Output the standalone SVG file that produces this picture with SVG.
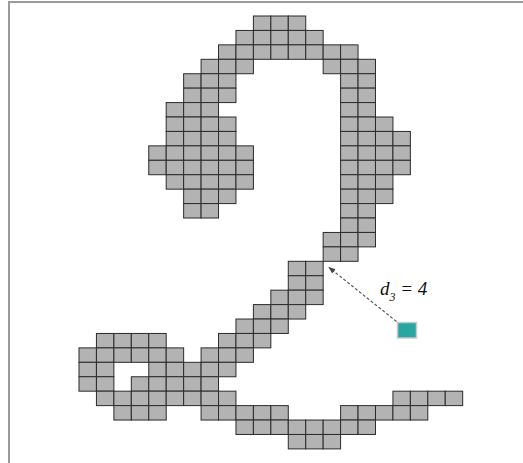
<svg xmlns="http://www.w3.org/2000/svg" xmlns:xlink="http://www.w3.org/1999/xlink" width="523" height="463" viewBox="0 0 523 463">
<style>
.c{fill:#b3b3b3;stroke:#2b2b2b;stroke-width:1}
.frame{fill:none;stroke:#9a9a9a;stroke-width:2}
.conn{stroke:#555;stroke-width:1.2;stroke-dasharray:3 2;fill:none}
.lbl{font-family:"Liberation Serif","Times New Roman",serif;font-style:italic;font-size:19px;fill:#111}
</style>
<defs>
<rect id="cell" class="c" width="17.44" height="14.43"/>
<marker id="ah" viewBox="0 0 10 10" refX="9" refY="5" markerWidth="7" markerHeight="7" orient="auto" markerUnits="userSpaceOnUse">
<path d="M0,1 L10,5 L0,9 Z" fill="#444"/>
</marker>
</defs>
<rect width="523" height="463" fill="#fff"/>
<path class="frame" d="M9,463 V2 H523"/>
<g id="grid">
<g transform="translate(0,16)"><use href="#cell" x="253.4"/><use href="#cell" x="270.84"/><use href="#cell" x="288.28"/></g>
<g transform="translate(0,30.43)"><use href="#cell" x="235.96"/><use href="#cell" x="253.4"/><use href="#cell" x="270.84"/><use href="#cell" x="288.28"/><use href="#cell" x="305.72"/></g>
<g transform="translate(0,44.86)"><use href="#cell" x="218.52"/><use href="#cell" x="235.96"/><use href="#cell" x="253.4"/><use href="#cell" x="270.84"/><use href="#cell" x="288.28"/><use href="#cell" x="305.72"/><use href="#cell" x="323.16"/><use href="#cell" x="340.6"/></g>
<g transform="translate(0,59.29)"><use href="#cell" x="201.08"/><use href="#cell" x="218.52"/><use href="#cell" x="235.96"/><use href="#cell" x="323.16"/><use href="#cell" x="340.6"/><use href="#cell" x="358.04"/></g>
<g transform="translate(0,73.72)"><use href="#cell" x="183.64"/><use href="#cell" x="201.08"/><use href="#cell" x="218.52"/><use href="#cell" x="340.6"/><use href="#cell" x="358.04"/></g>
<g transform="translate(0,88.15)"><use href="#cell" x="183.64"/><use href="#cell" x="201.08"/><use href="#cell" x="218.52"/><use href="#cell" x="340.6"/><use href="#cell" x="358.04"/></g>
<g transform="translate(0,102.58)"><use href="#cell" x="166.2"/><use href="#cell" x="183.64"/><use href="#cell" x="201.08"/><use href="#cell" x="340.6"/><use href="#cell" x="358.04"/></g>
<g transform="translate(0,117.01)"><use href="#cell" x="166.2"/><use href="#cell" x="183.64"/><use href="#cell" x="201.08"/><use href="#cell" x="218.52"/><use href="#cell" x="340.6"/><use href="#cell" x="358.04"/><use href="#cell" x="375.48"/></g>
<g transform="translate(0,131.44)"><use href="#cell" x="166.2"/><use href="#cell" x="183.64"/><use href="#cell" x="201.08"/><use href="#cell" x="218.52"/><use href="#cell" x="340.6"/><use href="#cell" x="358.04"/><use href="#cell" x="375.48"/><use href="#cell" x="392.92"/></g>
<g transform="translate(0,145.87)"><use href="#cell" x="148.76"/><use href="#cell" x="166.2"/><use href="#cell" x="183.64"/><use href="#cell" x="201.08"/><use href="#cell" x="218.52"/><use href="#cell" x="235.96"/><use href="#cell" x="340.6"/><use href="#cell" x="358.04"/><use href="#cell" x="375.48"/><use href="#cell" x="392.92"/></g>
<g transform="translate(0,160.3)"><use href="#cell" x="148.76"/><use href="#cell" x="166.2"/><use href="#cell" x="183.64"/><use href="#cell" x="201.08"/><use href="#cell" x="218.52"/><use href="#cell" x="235.96"/><use href="#cell" x="340.6"/><use href="#cell" x="358.04"/><use href="#cell" x="375.48"/><use href="#cell" x="392.92"/></g>
<g transform="translate(0,174.73)"><use href="#cell" x="166.2"/><use href="#cell" x="183.64"/><use href="#cell" x="201.08"/><use href="#cell" x="218.52"/><use href="#cell" x="235.96"/><use href="#cell" x="340.6"/><use href="#cell" x="358.04"/><use href="#cell" x="375.48"/></g>
<g transform="translate(0,189.16)"><use href="#cell" x="183.64"/><use href="#cell" x="201.08"/><use href="#cell" x="218.52"/><use href="#cell" x="340.6"/><use href="#cell" x="358.04"/><use href="#cell" x="375.48"/></g>
<g transform="translate(0,203.59)"><use href="#cell" x="183.64"/><use href="#cell" x="201.08"/><use href="#cell" x="340.6"/><use href="#cell" x="358.04"/></g>
<g transform="translate(0,218.02)"><use href="#cell" x="340.6"/><use href="#cell" x="358.04"/></g>
<g transform="translate(0,232.45)"><use href="#cell" x="323.16"/><use href="#cell" x="340.6"/><use href="#cell" x="358.04"/></g>
<g transform="translate(0,246.88)"><use href="#cell" x="323.16"/><use href="#cell" x="340.6"/></g>
<g transform="translate(0,261.31)"><use href="#cell" x="288.28"/><use href="#cell" x="305.72"/></g>
<g transform="translate(0,275.74)"><use href="#cell" x="288.28"/><use href="#cell" x="305.72"/></g>
<g transform="translate(0,290.17)"><use href="#cell" x="270.84"/><use href="#cell" x="288.28"/><use href="#cell" x="305.72"/></g>
<g transform="translate(0,304.6)"><use href="#cell" x="253.4"/><use href="#cell" x="270.84"/><use href="#cell" x="288.28"/></g>
<g transform="translate(0,319.03)"><use href="#cell" x="235.96"/><use href="#cell" x="253.4"/><use href="#cell" x="270.84"/></g>
<g transform="translate(0,333.46)"><use href="#cell" x="96.44"/><use href="#cell" x="113.88"/><use href="#cell" x="131.32"/><use href="#cell" x="148.76"/><use href="#cell" x="218.52"/><use href="#cell" x="235.96"/><use href="#cell" x="253.4"/></g>
<g transform="translate(0,347.89)"><use href="#cell" x="79"/><use href="#cell" x="96.44"/><use href="#cell" x="113.88"/><use href="#cell" x="131.32"/><use href="#cell" x="148.76"/><use href="#cell" x="166.2"/><use href="#cell" x="201.08"/><use href="#cell" x="218.52"/><use href="#cell" x="235.96"/></g>
<g transform="translate(0,362.32)"><use href="#cell" x="79"/><use href="#cell" x="96.44"/><use href="#cell" x="148.76"/><use href="#cell" x="166.2"/><use href="#cell" x="183.64"/><use href="#cell" x="201.08"/><use href="#cell" x="218.52"/></g>
<g transform="translate(0,376.75)"><use href="#cell" x="79"/><use href="#cell" x="96.44"/><use href="#cell" x="131.32"/><use href="#cell" x="148.76"/><use href="#cell" x="166.2"/><use href="#cell" x="183.64"/><use href="#cell" x="201.08"/></g>
<g transform="translate(0,391.18)"><use href="#cell" x="96.44"/><use href="#cell" x="113.88"/><use href="#cell" x="131.32"/><use href="#cell" x="148.76"/><use href="#cell" x="166.2"/><use href="#cell" x="183.64"/><use href="#cell" x="201.08"/><use href="#cell" x="218.52"/><use href="#cell" x="392.92"/><use href="#cell" x="410.36"/><use href="#cell" x="427.8"/><use href="#cell" x="445.24"/></g>
<g transform="translate(0,405.61)"><use href="#cell" x="113.88"/><use href="#cell" x="131.32"/><use href="#cell" x="148.76"/><use href="#cell" x="201.08"/><use href="#cell" x="218.52"/><use href="#cell" x="235.96"/><use href="#cell" x="253.4"/><use href="#cell" x="270.84"/><use href="#cell" x="340.6"/><use href="#cell" x="358.04"/><use href="#cell" x="375.48"/><use href="#cell" x="392.92"/><use href="#cell" x="410.36"/></g>
<g transform="translate(0,420.04)"><use href="#cell" x="235.96"/><use href="#cell" x="253.4"/><use href="#cell" x="270.84"/><use href="#cell" x="288.28"/><use href="#cell" x="305.72"/><use href="#cell" x="323.16"/><use href="#cell" x="340.6"/><use href="#cell" x="358.04"/></g>
<g transform="translate(0,434.47)"><use href="#cell" x="288.28"/><use href="#cell" x="305.72"/><use href="#cell" x="323.16"/></g>
</g>
<g id="point">
<rect x="397.5" y="322.5" width="19" height="15.5" fill="#2aa6a2" stroke="#c9c9c9" stroke-width="1.5"/>
</g>
<g id="connectors">
<path class="conn" d="M396.5,321.5 L329,267.5" marker-end="url(#ah)"/>
</g>
<g id="label">
<text class="lbl" x="380" y="295">d<tspan font-size="12" dy="6">3</tspan><tspan dy="-6"> = 4</tspan></text>
</g>
</svg>
